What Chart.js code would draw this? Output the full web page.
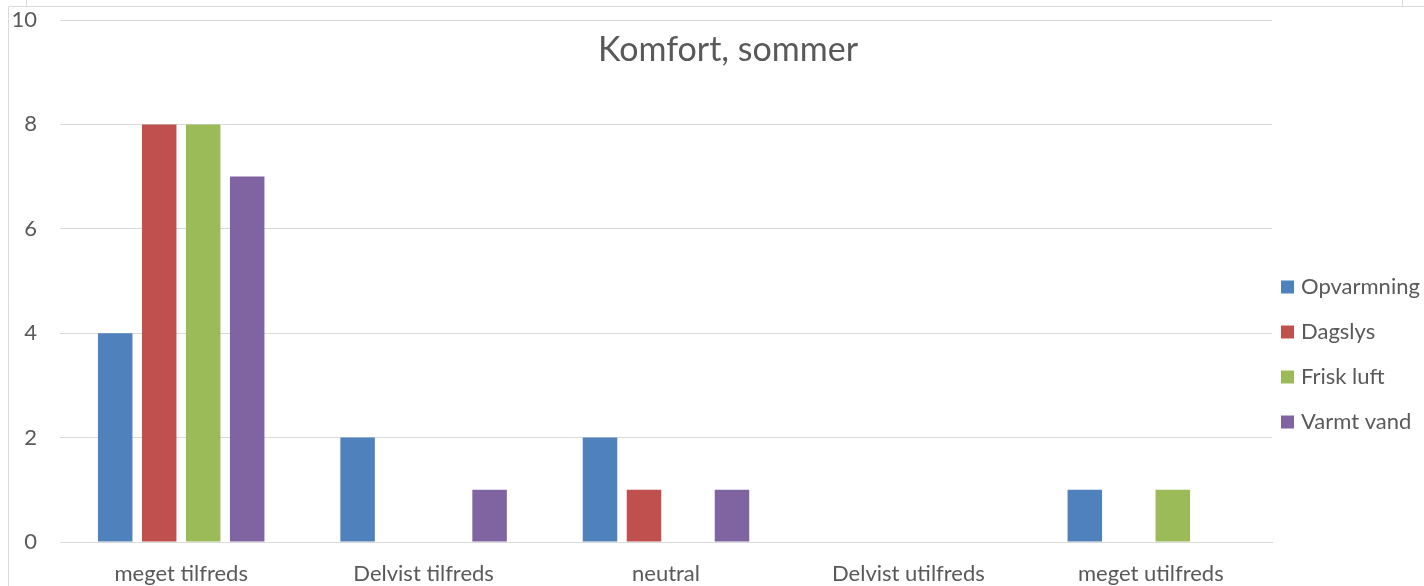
<!DOCTYPE html>
<html>
<head>
<meta charset="utf-8">
<script src="https://cdn.jsdelivr.net/npm/chart.js@4.4.1/dist/chart.umd.min.js"></script>
<style>
  html, body { margin: 0; padding: 0; background: #fff; }
  #wrap { width: 1424px; height: 586px; }
</style>
</head>
<body>
<div id="wrap"><canvas id="chart"></canvas></div>
<script>
const categories = ['meget tilfreds', 'Delvist tilfreds', 'neutral', 'Delvist utilfreds', 'meget utilfreds'];
const seriesNames = ['Opvarmning', 'Dagslys', 'Frisk luft', 'Varmt vand'];
const opvarmning = [4, 2, 2, 0, 1];
const dagslys = [8, 0, 1, 0, 0];
const friskLuft = [8, 0, 0, 0, 1];
const varmtVand = [7, 1, 1, 0, 0];
const yTicks = [0, 2, 4, 6, 8, 10];

const colors = ['#4F81BD', '#C0504D', '#9BBB59', '#8064A2'];
const font = 'Lato, "Open Sans", sans-serif';
const textColor = '#595959';

// frame, overlay title and right-hand legend
const decor = {
    id: 'decor',
    beforeDraw(chart) {
        const ctx = chart.ctx;
        ctx.save();
        ctx.strokeStyle = '#d9d9d9';
        ctx.lineWidth = 1;
        ctx.beginPath();
        ctx.moveTo(8.5, chart.height);
        ctx.lineTo(8.5, 6.5);
        ctx.lineTo(chart.width, 6.5);
        ctx.moveTo(26.5, 0);
        ctx.lineTo(26.5, 6.5);
        ctx.moveTo(1402.5, 0);
        ctx.lineTo(1402.5, 6.5);
        ctx.stroke();
        ctx.restore();
    },
    afterDraw(chart) {
        const ctx = chart.ctx;
        const area = chart.chartArea;
        ctx.save();
        ctx.fillStyle = textColor;
        ctx.font = '34px ' + font;
        ctx.textAlign = 'center';
        ctx.textBaseline = 'middle';
        ctx.fillText('Komfort, sommer', chart.width / 2 + 16, area.top + 30);

        ctx.font = '22px ' + font;
        ctx.textAlign = 'left';
        chart.data.datasets.forEach((ds, i) => {
            const y = 287 + i * 45;
            const x = area.right + 9;
            ctx.fillStyle = ds.backgroundColor;
            ctx.fillRect(x, y - 6.5, 13, 13);
            ctx.fillStyle = textColor;
            ctx.fillText(ds.label, x + 20, y);
        });
        ctx.restore();
    }
};

const allSeries = [opvarmning, dagslys, friskLuft, varmtVand];

new Chart(document.getElementById('chart'), {
    type: 'bar',
    data: {
        labels: categories,
        datasets: allSeries.map((values, i) => ({
            label: seriesNames[i],
            data: values,
            backgroundColor: colors[i],
            categoryPercentage: 0.726,
            barPercentage: 0.784
        }))
    },
    options: {
        responsive: true,
        maintainAspectRatio: false,
        animation: false,
        layout: { padding: { left: 8, right: 152, top: 20, bottom: 0 } },
        plugins: {
            legend: { display: false },
            title: { display: false },
            tooltip: { enabled: false }
        },
        scales: {
            x: {
                grid: { display: false, drawTicks: false },
                border: { display: true, color: '#d9d9d9', width: 1 },
                ticks: { color: textColor, font: { family: font, size: 22 }, padding: 19, maxRotation: 0 },
                afterFit: (s) => {
                    s.height = 44;
                    s.paddingLeft = 0;
                    s.paddingRight = 0;
                }
            },
            y: {
                min: 0,
                max: 10,
                afterBuildTicks: (s) => { s.ticks = yTicks.map(v => ({ value: v })); },
                grid: { color: '#d9d9d9', drawTicks: false, lineWidth: 1 },
                border: { display: false },
                ticks: { color: textColor, font: { family: font, size: 22 }, padding: 23 },
                afterFit: (s) => {
                    s.width = 52;
                    s.paddingTop = 0;
                    s.paddingBottom = 0;
                }
            }
        }
    },
    plugins: [decor]
});
</script>
</body>
</html>
